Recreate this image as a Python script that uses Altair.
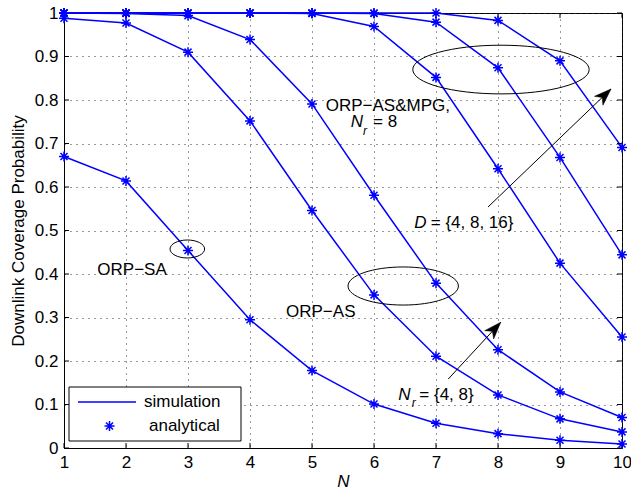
import altair as alt
import pandas as pd

FONT = "Liberation Sans"
BLUE = "#0000ff"

# ---- data ----
N = [1, 2, 3, 4, 5, 6, 7, 8, 9, 10]
orp_sa     = [0.670, 0.614, 0.454, 0.295, 0.178, 0.101, 0.057, 0.033, 0.018, 0.009]
orp_as_nr4 = [0.988, 0.977, 0.910, 0.752, 0.546, 0.352, 0.211, 0.122, 0.067, 0.037]
orp_as_nr8 = [1.000, 0.999, 0.994, 0.939, 0.791, 0.581, 0.379, 0.226, 0.129, 0.070]
mpg_d4     = [1.000, 1.000, 1.000, 1.000, 0.999, 0.969, 0.852, 0.642, 0.425, 0.255]
mpg_d8     = [1.000, 1.000, 1.000, 1.000, 1.000, 0.999, 0.979, 0.874, 0.668, 0.444]
mpg_d16    = [1.000, 1.000, 1.000, 1.000, 1.000, 1.000, 1.000, 0.983, 0.890, 0.691]

series_names = ["ORP-SA", "ORP-AS Nr=4", "ORP-AS Nr=8",
                "ORP-AS&MPG D=4", "ORP-AS&MPG D=8", "ORP-AS&MPG D=16"]
series_vals = [orp_sa, orp_as_nr4, orp_as_nr8, mpg_d4, mpg_d8, mpg_d16]

x_ticks = [1, 2, 3, 4, 5, 6, 7, 8, 9, 10]
y_ticks = [0.0, 0.1, 0.2, 0.3, 0.4, 0.5, 0.6, 0.7, 0.8, 0.9, 1.0]
legend_labels = ["simulation", "analytical"]

# annotations (data coordinates)
ann_text = ["ORP\u2212AS&MPG,", "ORP\u2212SA", "ORP\u2212AS", "= 8", "= {4, 8, 16}", "= {4, 8}"]
ann_x = [5.221, 1.537, 4.581, 5.984, 6.915, 6.731]
ann_y = [0.7754, 0.3977, 0.3005, 0.7372, 0.505, 0.1103]
ital_text = ["N", "D", "N"]
ital_x = [5.624, 6.650, 6.392]
ital_y = [0.7372, 0.505, 0.1103]
sub_text = ["r", "r"]
sub_x = [5.823, 6.608]
sub_y = [0.7202, 0.0949]

# ellipses: centre (data), half width in px, height/width ratio
ell_x = [8.048, 2.989, 6.471]
ell_y = [0.870, 0.4575, 0.3724]
ell_rx_px = [88.2, 17.3, 55.2]
ell_ratio = [0.276, 0.52, 0.345]

# arrows: start, tip (data), direction (deg clockwise from up)
arr_x0 = [7.839, 7.198]
arr_y0 = [0.554, 0.1586]
arr_x1 = [9.823, 8.044]
arr_y1 = [0.8253, 0.2890]
arr_ang = [46.3, 42.7]

# ---- tables ----
rows = []
for name, vals in zip(series_names, series_vals):
    for n, v in zip(N, vals):
        rows.append({"N": n, "P": v, "series": name,
                     "sim": legend_labels[0], "ana": legend_labels[1]})
df = pd.DataFrame(rows)

ASTER = ("M0,-1L0,1M-1,0L1,0"
         "M-0.7,-0.7L0.7,0.7M-0.7,0.7L0.7,-0.7")

xs = alt.Scale(domain=[1, 10], nice=False, zero=False)
ys = alt.Scale(domain=[0, 1], nice=False, zero=False)

x_axis = alt.Axis(values=x_ticks, format="d", title="N", titleFontStyle="italic",
                  titleFontWeight="normal", titleFontSize=17, titleFont=FONT,
                  titleColor="black", titlePadding=3, labelFontSize=17, labelFont=FONT,
                  labelColor="black", labelPadding=6, labelFlush=False, tickSize=0,
                  grid=True, gridDash=[1, 5], gridColor="#333", domainColor="black")
y_axis = alt.Axis(values=y_ticks, format=".1~f", title="Downlink Coverage Probability",
                  titleFontWeight="normal", titleFontSize=17, titleFont=FONT,
                  titleColor="black", titlePadding=7, labelFontSize=17, labelFont=FONT,
                  labelColor="black", labelPadding=6, labelFlush=False, tickSize=0,
                  grid=True, gridDash=[1, 5], gridColor="#333", domainColor="black")


def X(field):
    return alt.X(field, scale=xs, axis=x_axis)


def Y(field):
    return alt.Y(field, scale=ys, axis=y_axis)


lines = alt.Chart(df).mark_line(strokeWidth=1.5).encode(
    x=X("N:Q"), y=Y("P:Q"),
    detail="series:N",
    stroke=alt.Stroke("sim:N", scale=alt.Scale(domain=["simulation"], range=[BLUE]),
                      legend=alt.Legend(title=None, orient="none", legendX=13, legendY=379,
                                        padding=0, symbolType="stroke", symbolSize=3364,
                                        symbolStrokeWidth=1.5, symbolOffset=0,
                                        labelOffset=7, labelFontSize=17, labelFont=FONT,
                                        labelColor="black", clipHeight=20)),
)

points = alt.Chart(df).mark_point(filled=False, strokeWidth=1.5, size=100,
                                  opacity=1, shape=ASTER).encode(
    x=X("N:Q"), y=Y("P:Q"),
    color=alt.Color("ana:N", scale=alt.Scale(domain=["analytical"], range=[BLUE]),
                    legend=alt.Legend(title=None, orient="none", legendX=37, legendY=403,
                                      padding=0, symbolType=ASTER, symbolSize=100,
                                      symbolStrokeWidth=1.5, symbolFillColor="transparent",
                                      symbolOffset=0, labelOffset=31, labelFontSize=17,
                                      labelFont=FONT, labelColor="black", clipHeight=20)),
)

# legend frame (drawn under the legend entries)
legend_box = alt.Chart(pd.DataFrame({"a": [0]})).mark_rect(
    fill="white", stroke="black", strokeWidth=1).encode(
    x=alt.value(5), x2=alt.value(177), y=alt.value(374), y2=alt.value(428))

# inward tick marks on all four sides
xt = pd.DataFrame({"t": x_ticks})
yt = pd.DataFrame({"t": y_ticks})
tick_b = alt.Chart(xt).mark_rule(color="black").encode(
    x=X("t:Q"), y=alt.value(435), y2=alt.value(430))
tick_t = alt.Chart(xt).mark_rule(color="black").encode(
    x=X("t:Q"), y=alt.value(0), y2=alt.value(5))
tick_l = alt.Chart(yt).mark_rule(color="black").encode(
    y=Y("t:Q"), x=alt.value(0), x2=alt.value(5))
tick_r = alt.Chart(yt).mark_rule(color="black").encode(
    y=Y("t:Q"), x=alt.value(558), x2=alt.value(553))

# ellipses (one layer each, constant shape)
ell_layers = []
for ex, ey, rx, q in zip(ell_x, ell_y, ell_rx_px, ell_ratio):
    path = f"M-1,0A1,{q} 0 1,1 1,0A1,{q} 0 1,1 -1,0Z"
    ell_layers.append(
        alt.Chart(pd.DataFrame({"N": [ex], "P": [ey]})).mark_point(
            shape=path, size=(2 * rx) ** 2, filled=False, stroke="black",
            strokeWidth=1, opacity=1).encode(x=X("N:Q"), y=Y("P:Q")))

# arrows
arr_df = pd.DataFrame({"N": arr_x0, "P": arr_y0, "N2": arr_x1, "P2": arr_y1})
arr_lines = alt.Chart(arr_df).mark_rule(color="black", strokeWidth=1).encode(
    x=X("N:Q"), y=Y("P:Q"), x2="N2:Q", y2="P2:Q")
ARROW = "M0,0L-0.36,1L0,0.72L0.36,1Z"
head_layers = []
for hx, hy, ang in zip(arr_x1, arr_y1, arr_ang):
    head_layers.append(
        alt.Chart(pd.DataFrame({"N": [hx], "P": [hy]})).mark_point(
            shape=ARROW, filled=True, fill="black", stroke="black", strokeWidth=0.5,
            size=1156, opacity=1, angle=ang).encode(x=X("N:Q"), y=Y("P:Q")))

# texts
t_norm = alt.Chart(pd.DataFrame({"N": ann_x, "P": ann_y, "t": ann_text})).mark_text(
    font=FONT, fontSize=17, align="left", baseline="alphabetic", color="black").encode(
    x=X("N:Q"), y=Y("P:Q"), text="t:N")
t_ital = alt.Chart(pd.DataFrame({"N": ital_x, "P": ital_y, "t": ital_text})).mark_text(
    font=FONT, fontSize=17, fontStyle="italic", align="left", baseline="alphabetic",
    color="black").encode(x=X("N:Q"), y=Y("P:Q"), text="t:N")
t_sub = alt.Chart(pd.DataFrame({"N": sub_x, "P": sub_y, "t": sub_text})).mark_text(
    font=FONT, fontSize=12, fontStyle="italic", align="left", baseline="alphabetic",
    color="black").encode(x=X("N:Q"), y=Y("P:Q"), text="t:N")

chart = alt.layer(
    lines, tick_b, tick_t, tick_l, tick_r, *ell_layers, arr_lines, *head_layers,
    t_norm, t_ital, t_sub, points, legend_box,
).properties(
    width=558, height=435,
    autosize=alt.AutoSizeParams(type="none"),
    padding={"left": 64, "top": 13, "right": 9, "bottom": 43},
).configure_view(stroke="black", strokeWidth=1)

chart.save("out.html", embed_options={"renderer": "svg", "actions": False})
